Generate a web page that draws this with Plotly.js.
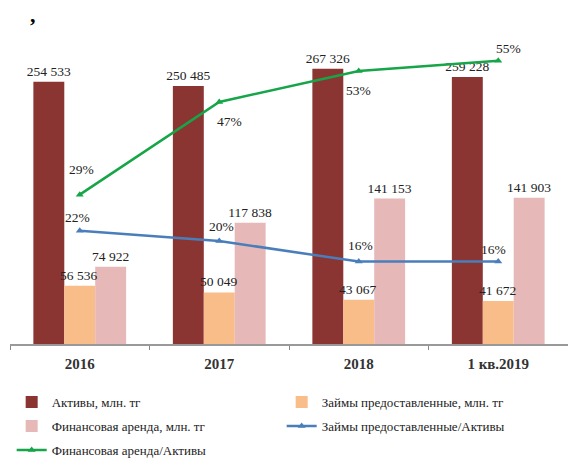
<!DOCTYPE html>
<html><head><meta charset="utf-8">
<script src="https://cdn.plot.ly/plotly-3.0.1.min.js"></script>
<style>html,body{margin:0;padding:0;background:#fff}#c{width:568px;height:461px}</style>
</head><body><div id="c"></div>
<script>
const categories = ['2016', '2017', '2018', '1 кв.2019'];
const assets = [254533, 250485, 267326, 259228];
const loans = [56536, 50049, 43067, 41672];
const lease = [74922, 117838, 141153, 141903];
const loansShare = [0.22, 0.20, 0.16, 0.16];
const leaseShare = [0.29, 0.47, 0.53, 0.55];
const names = ['Активы, млн. тг', 'Займы предоставленные, млн. тг', 'Финансовая аренда, млн. тг',
  'Займы предоставленные/Активы', 'Финансовая аренда/Активы'];

const fmt = v => String(v).replace(/\B(?=(\d{3})+(?!\d))/g, ' ');
const pct = v => Math.round(v * 100) + '%';
const serif = 'Liberation Serif, Times New Roman, serif';
const lblFont = {family: serif, size: 13.5, color: '#222'};

function barTrace(vals, name, color, leg, withText) {
  const t = {type: 'bar', x: categories, y: vals, name: name, marker: {color: color},
    cliponaxis: false, hoverinfo: 'skip', legend: leg};
  if (withText) Object.assign(t, {text: vals.map(fmt), textposition: 'outside', textfont: lblFont,
    constraintext: 'none'});
  return t;
}
function lineTrace(vals, name, color, leg) {
  return {type: 'scatter', mode: 'lines+markers', x: categories, y: vals, yaxis: 'y2', name: name,
    line: {color: color, width: 2.5}, marker: {symbol: 'triangle-up', size: 7, color: color},
    hoverinfo: 'skip', legend: leg};
}
const data = [
  barTrace(assets, names[0], '#8b3533', 'legend', true),
  barTrace(loans, names[1], '#f8bd88', 'legend', false),
  barTrace(lease, names[2], '#e6b9b8', 'legend2', true),
  lineTrace(loansShare, names[3], '#4a7ebb', 'legend2'),
  lineTrace(leaseShare, names[4], '#16a548', 'legend3')
];

// label offsets (styling only)
const loansOff = [[-2, 13], [2, 15], [2, 16], [-5, 12]];
const leaseOff = [[2, 25], [10, -20], [0, -19], [10, 12]];
const ann = [];
// loans bar labels drawn on top of neighbouring bars
loans.forEach((v, i) => ann.push({x: i, y: v, xref: 'x', yref: 'y', text: fmt(v), showarrow: false,
  font: lblFont, yanchor: 'bottom', xshift: -1, yshift: 1}));
loansShare.forEach((v, i) => ann.push({x: i, y: v, xref: 'x', yref: 'y2', text: pct(v),
  showarrow: false, font: lblFont, xshift: loansOff[i][0], yshift: loansOff[i][1]}));
leaseShare.forEach((v, i) => ann.push({x: i, y: v, xref: 'x', yref: 'y2', text: pct(v),
  showarrow: false, font: lblFont, xshift: leaseOff[i][0], yshift: leaseOff[i][1]}));
ann.push({x: (33 - 10) / 558, y: 1 + (35 - 14) / 309, xref: 'paper', yref: 'paper', text: '<b>,</b>',
  showarrow: false, font: {family: serif, size: 22, color: '#000'}, xanchor: 'center', yanchor: 'middle'});

const legBase = {orientation: 'h', x: 0.003, xanchor: 'left', yanchor: 'middle',
  entrywidth: 225, entrywidthmode: 'pixels', traceorder: 'normal', bgcolor: 'rgba(0,0,0,0)',
  font: {family: serif, size: 13, color: '#222'}, itemclick: false};

const layout = {
  width: 568, height: 461,
  margin: {l: 10, r: 0, t: 35, b: 117, autoexpand: false},
  paper_bgcolor: '#fff', plot_bgcolor: '#fff',
  barmode: 'group', bargap: 0.335, bargroupgap: 0,
  font: {family: serif, color: '#222'},
  xaxis: {type: 'category', range: [-0.5, 3.5], autorange: false, showline: true, linecolor: '#999', linewidth: 1.5,
    ticks: 'outside', tickson: 'boundaries', ticklen: 4, tickcolor: '#888', ticklabelstandoff: 5,
    tickfont: {family: serif, size: 15, color: '#333', weight: 'bold'}, showgrid: false, fixedrange: true},
  yaxis: {range: [0, 300000], autorange: false, visible: false, showgrid: false, zeroline: false},
  yaxis2: {range: [0, 0.6], autorange: false, overlaying: 'y', side: 'right', visible: false, showgrid: false, zeroline: false},
  showlegend: true,
  legend: Object.assign({}, legBase, {y: -(402 - 344) / 309}),
  legend2: Object.assign({}, legBase, {y: -(426 - 344) / 309}),
  legend3: Object.assign({}, legBase, {y: -(450 - 344) / 309}),
  annotations: ann
};
Plotly.newPlot('c', data, layout, {displayModeBar: false, staticPlot: true});
</script></body></html>
